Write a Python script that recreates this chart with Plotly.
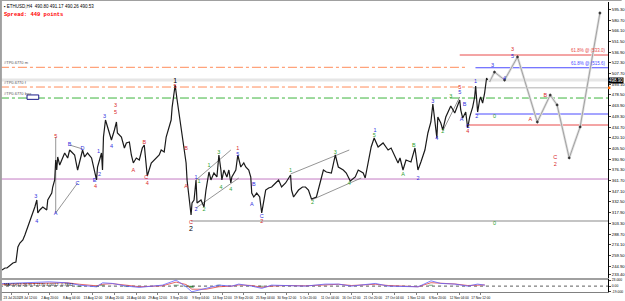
import plotly.graph_objects as go

# ---------------- data ----------------
# time in days since 23 Jul 2020 00:00 (H4 chart), price in USD
price_days = [0, 0.74, 1.23, 1.97, 2.71, 3.45, 3.69, 3.94, 4.43, 5.17, 5.67, 6.40, 6.90, 7.64, 8.13, 8.62, 8.87,
              9.36, 10.10, 11.08, 11.33, 12.32, 12.56, 13.05, 13.30, 13.55, 13.79, 14.29, 14.78, 15.52, 16.26, 16.75,
              17.24, 17.98, 18.72, 19.21, 19.95, 20.44, 21.18, 22.17, 22.91, 23.40, 23.65, 24.14, 24.63, 24.88, 25.12,
              25.62, 26.11, 26.60, 27.09, 27.83, 28.33, 28.57, 29.56, 30.30, 30.79, 31.53, 32.02, 32.51, 33.25, 33.99,
              34.73, 35.22, 35.71, 35.96, 36.95, 37.68, 38.42, 38.92, 39.41, 40.15, 40.64, 41.38, 41.87, 42.12, 42.61,
              42.86, 43.35, 43.84, 44.33, 44.58, 45.07, 45.57, 45.81, 46.31, 46.80, 47.04, 47.54, 48.03, 48.28, 49.26,
              50.00, 50.49, 51.23, 51.72, 52.46, 53.20, 53.69, 54.19, 54.43, 54.93, 55.67, 56.16, 56.65, 56.90, 57.88,
              58.37, 59.11, 59.85, 60.34, 61.08, 61.58, 61.82, 62.32, 63.05, 63.79, 64.29, 64.78, 65.27, 66.01, 66.75,
              67.73, 68.47, 69.21, 70.20, 71.43, 71.67, 72.17, 73.40, 74.38, 75.12, 75.86, 76.60, 77.83, 78.82, 79.56,
              80.30, 81.53, 82.51, 83.25, 84.48, 85.22, 86.21, 87.44, 88.18, 89.41, 89.90, 90.64, 91.38, 92.12, 93.10,
              94.33, 95.57, 96.31, 97.29, 98.03, 98.52, 99.26, 100.00, 101.23, 102.22, 102.96, 103.69, 104.68, 105.42,
              106.16, 106.65, 107.14, 107.64, 107.88, 108.62, 109.11, 109.85, 111.08, 112.07, 113.30, 113.55, 114.04,
              114.78, 115.27, 115.76, 116.50, 116.99, 117.24, 117.49, 117.73, 118.23, 118.47, 118.97, 119.46, 119.95,
              120.20]
price_close = [239.7, 242.4, 242.4, 246.5, 249.3, 250.6, 262.9, 271.1, 276.5, 280.6, 287.5, 298.4, 305.2, 317.5,
               325.7, 335.2, 317.5, 321.6, 325.7, 321.6, 335.2, 344.7, 352.9, 362.5, 389.8, 376.1, 393.9, 382.9, 389.8,
               399.3, 392.5, 403.4, 400.7, 396.6, 376.1, 387.0, 403.4, 393.9, 399.3, 392.5, 372.0, 362.5, 380.2, 389.8,
               399.3, 376.1, 421.1, 444.3, 434.8, 426.6, 417.0, 430.7, 441.6, 426.6, 421.1, 406.1, 413.0, 414.3, 396.6,
               385.7, 392.5, 389.8, 406.1, 410.2, 380.2, 367.9, 385.7, 389.8, 393.9, 396.6, 403.4, 400.7, 421.1, 434.8,
               444.3, 462.0, 481.1, 492.1, 471.6, 453.9, 434.8, 421.1, 406.1, 385.7, 362.5, 339.3, 314.7, 331.1, 335.2,
               362.5, 331.1, 335.2, 325.7, 348.8, 373.4, 362.5, 372.0, 366.6, 396.6, 376.1, 362.5, 376.1, 366.6, 376.1,
               358.4, 366.6, 376.1, 396.6, 380.2, 385.7, 380.2, 376.1, 366.6, 344.7, 339.3, 344.7, 339.3, 317.5, 335.2,
               348.8, 351.6, 352.9, 358.4, 362.5, 352.9, 358.4, 369.3, 348.8, 339.3, 348.8, 352.9, 352.9, 348.8, 336.6,
               339.3, 358.4, 376.1, 373.4, 372.0, 396.6, 380.2, 376.1, 372.0, 361.1, 366.6, 376.1, 372.0, 365.2, 385.7,
               407.5, 419.8, 407.5, 413.0, 403.4, 406.1, 393.9, 385.7, 392.5, 376.1, 389.8, 387.0, 406.1, 376.1, 387.0,
               403.4, 426.6, 441.6, 466.1, 440.2, 419.8, 448.4, 440.2, 430.7, 448.4, 463.4, 453.9, 471.6, 458.0, 447.0,
               455.2, 433.4, 448.4, 462.0, 475.7, 490.7, 467.5, 455.2, 471.6, 475.7, 467.5, 481.1, 501.6, 498.9]

# projected path (grey arrows)
proj_days = [120.7, 121.9, 124.4, 127.6, 132.5, 135.7, 137.4, 140.4, 143.1, 148.0]
proj_price = [496.2, 509.8, 498.9, 530.3, 441.6, 478.4, 464.8, 392.5, 434.8, 590.3]

# trend / channel lines: (day0, price0, day1, price1)
trend_lines = [
    (13.30, 317.5, 13.30, 421.1),
    (13.30, 317.5, 18.72, 358.4),
    (16.75, 410.2, 19.95, 404.8),
    (48.03, 362.5, 56.65, 403.4),
    (48.03, 324.3, 58.62, 365.2),
    (71.43, 370.7, 85.96, 403.4),
    (76.60, 335.2, 88.92, 365.2),
    (109.1, 429.3, 113.3, 475.7),
]

# horizontal levels: price, start day, end day
level_price = [533.0, 516.2, 515.6, 498.9, 489.3, 488.2, 474.3, 452.5, 437.5, 363.8, 306.6]
level_start = [113.3, -0.5, 117.2, -0.5, -0.5, 116.5, -0.5, 117.2, 115.3, -0.5, 46.8]
level_end = [150.0, 115.3, 150.0, 150.0, 116.5, 150.0, 150.0, 150.0, 150.0, 150.0, 150.0]

# wave labels
lab_text = ["5", "A", "B", "C", "D", "3", "4", "E", "4", "1", "2", "3", "4", "3", "5", "A", "B", "C", "4",
            "1", "5", "B", "A", "C", "2", "1", "2", "1", "2", "1", "3", "4", "4", "1", "5", "B", "A", "C", "2",
            "1", "2", "3", "4", "1", "5", "A", "B", "2", "3", "4", "2", "3", "5", "5", "B", "A", "C", "4", "1", "2",
            "0", "0", "3", "4", "3", "5", "A", "B", "C", "2"]
lab_day = [13.30, 13.30, 16.75, 18.72, 19.95, 8.37, 8.62, 22.91, 23.15, 23.89, 24.14, 25.37, 27.09, 28.08, 28.08,
           32.51, 35.22, 35.71, 35.96, 42.86, 42.86, 45.57, 45.57, 46.80, 46.80, 48.03, 48.03, 48.77, 50.00, 51.23,
           53.69, 54.19, 56.65, 58.37, 58.37, 62.32, 61.82, 64.29, 64.29, 71.43, 76.85, 82.51, 85.96, 92.36, 92.12,
           99.26, 101.97, 102.96, 106.65, 107.64, 109.11, 111.08, 113.30, 113.30, 114.53, 113.79, 115.27, 115.27,
           117.24, 117.49, 121.92, 121.92, 121.43, 124.38, 126.35, 126.35, 130.79, 134.48, 136.95, 136.95]
lab_price = [421.1, 316.1, 410.2, 357.0, 404.8, 339.3, 305.2, 361.1, 352.9, 400.7, 369.3, 448.4, 407.5, 463.4,
             453.9, 374.8, 413.0, 365.2, 357.0, 497.5, 489.3, 404.8, 352.9, 303.8, 295.6, 365.2, 321.6, 359.8,
             321.6, 381.6, 399.3, 351.6, 348.8, 404.8, 396.6, 355.7, 328.4, 312.0, 305.2, 374.8, 331.1, 399.3,
             357.0, 429.3, 422.5, 369.3, 408.9, 363.8, 468.9, 418.4, 428.0, 475.7, 488.0, 481.1, 464.8, 444.3,
             434.8, 428.0, 496.2, 448.4, 448.4, 302.5, 518.0, 500.2, 539.8, 530.3, 444.3, 477.1, 392.5, 382.9]
lab_kind = ["r", "b", "b", "b", "b", "b", "b", "b", "r", "b", "b", "b", "b", "r", "r", "r", "r", "r", "r",
            "k", "r", "r", "r", "r", "k", "b", "b", "g", "g", "g", "g", "g", "g", "r", "b", "b", "b", "b", "r",
            "g", "g", "g", "g", "b", "g", "g", "g", "b", "b", "b", "g", "g", "r", "b", "b", "b", "b", "r", "b", "b",
            "g", "g", "b", "b", "r", "b", "r", "r", "r", "r"]

# MACD-like indicator
ind_days = [0, 11.8, 16.0, 19.2, 23.4, 24.9, 27.3, 30.8, 34.0, 39.7, 43.1, 45.6, 47.0, 50.5, 53.7, 56.9, 58.6,
            61.8, 64.3, 66.7, 70.2, 75.1, 80.0, 83.3, 86.5, 92.4, 95.6, 99.8, 103.0, 106.2, 108.6, 112.1, 115.3,
            117.7, 119.5]
ind_main = [8.1, 13.9, 10.7, 3.2, -2.3, 10.7, 8.7, 0, -4.2, 3.2, 19.4, -2.3, -18.4, -7.4, 3.2, 0, 6.5, 0, -7.4,
            3.2, 2.3, 0, 6.5, 6.5, 0, 8.7, 0, -2.3, -2.3, 17.1, 8.7, 6.5, 0, 6.5, 3.2]
ind_signal = [6, 11, 11, 6, 1, 6, 8, 3, -2, 1, 13, 5, -10, -10, -2, 0, 4, 2, -4, 0, 2, 1, 4, 6, 2, 6, 2, -1, -2,
              11, 10, 7, 2, 4, 4]
ind_hist = [1, 2, 0, -2, -2, 3, 1, -2, -1, 1, 4, -4, -5, 2, 3, 0, 1, -1, -2, 2, 0, -1, 1, 0, -1, 2, -1, -1, 0, 4,
            -1, 0, -1, 1, -1]

# axis ticks
y_tick_vals = [595.30, 580.70, 566.10, 551.50, 536.90, 522.30, 507.70, 493.10, 478.50, 463.90, 449.30, 434.70,
               420.10, 405.50, 390.90, 376.30, 361.70, 347.10, 332.50, 317.90, 303.30, 288.70, 274.10, 259.50,
               244.90, 233.40]
x_tick_vals = [2.4, 6.5, 11.8, 17.2, 22.5, 27.8, 33.2, 38.5, 43.8, 49.2, 54.5, 59.8, 65.2, 70.5, 75.8, 81.2,
               86.5, 91.8, 97.2, 102.5, 107.8, 113.2, 118.5]
x_tick_text = ["23 Jul 2020", "28 Jul 12:00", "2 Aug 20:00", "8 Aug 04:00", "13 Aug 12:00", "18 Aug 20:00",
               "24 Aug 04:00", "29 Aug 12:00", "3 Sep 20:00", "9 Sep 04:00", "14 Sep 12:00", "19 Sep 20:00",
               "25 Sep 04:00", "30 Sep 12:00", "5 Oct 20:00", "11 Oct 04:00", "16 Oct 12:00", "21 Oct 20:00",
               "27 Oct 04:00", "1 Nov 12:00", "6 Nov 20:00", "12 Nov 04:00", "17 Nov 12:00"]
ind_tick_vals = [19, 0, -17]
ind_tick_text = ["23.000", "0.00", "-19.000"]

current_price = 498.9
header_text = "ETHUSD,H4  490.80 491.17 490.26 490.53"
spread_text = "Spread: 449 points"

# ---------------- figure ----------------
X0, X1 = -0.49, 150.0
fig = go.Figure()

level_styles = [
    dict(color="#e84a4a", width=1, dash="solid"),
    dict(color="#ff8c5a", width=1, dash="dashdot"),
    dict(color="#4a4aff", width=1, dash="solid"),
    dict(color="#e6e6e6", width=3, dash="solid"),
    dict(color="#ff8c5a", width=1, dash="dashdot"),
    dict(color="#b0b0b0", width=1, dash="solid"),
    dict(color="#3cb43c", width=1, dash="dashdot"),
    dict(color="#4a4aff", width=1, dash="solid"),
    dict(color="#e84a4a", width=1, dash="solid"),
    dict(color="#c47ac4", width=1, dash="solid"),
    dict(color="#c4c4c4", width=2, dash="solid"),
]
for p, s, e, st in zip(level_price, level_start, level_end, level_styles):
    fig.add_trace(go.Scatter(x=[s, e], y=[p, p], mode="lines", line=st, hoverinfo="skip",
                             xaxis="x", yaxis="y"))

for d0, p0, d1, p1 in trend_lines:
    fig.add_trace(go.Scatter(x=[d0, d1], y=[p0, p1], mode="lines",
                             line=dict(color="#7a7a7a", width=0.8), xaxis="x", yaxis="y"))

# projection
fig.add_trace(go.Scatter(x=proj_days, y=proj_price, mode="lines",
                         line=dict(color="#e0e0e0", width=2.5), xaxis="x", yaxis="y"))
fig.add_trace(go.Scatter(x=proj_days, y=proj_price, mode="lines",
                         line=dict(color="#9a9a9a", width=0.9), xaxis="x", yaxis="y"))
fig.add_trace(go.Scatter(x=proj_days[1:], y=proj_price[1:], mode="markers",
                         marker=dict(color="#333", size=2.5, symbol="diamond"), xaxis="x", yaxis="y"))

# price
fig.add_trace(go.Scatter(x=price_days, y=price_close, mode="lines",
                         line=dict(color="#1a1a1a", width=1.2), xaxis="x", yaxis="y"))

# labels
cmap = {"r": "#d8282a", "b": "#3030e0", "g": "#2f9f2f", "k": "#000000"}
for kind in ["r", "b", "g", "k"]:
    idx = [i for i, k in enumerate(lab_kind) if k == kind]
    fig.add_trace(go.Scatter(
        x=[lab_day[i] for i in idx], y=[lab_price[i] for i in idx],
        text=[lab_text[i] for i in idx], mode="text",
        textfont=dict(color=cmap[kind], size=7 if kind == "k" else 5.5, family="Arial"),
        xaxis="x", yaxis="y"))

# indicator
fig.add_trace(go.Scatter(x=[X0, X1], y=[0, 0], mode="lines",
                         line=dict(color="#333", width=0.8, dash="dot"), xaxis="x2", yaxis="y2"))
fig.add_trace(go.Bar(x=ind_days, y=ind_hist, marker_color="#2a8a2a", width=1.2, xaxis="x2", yaxis="y2"))
fig.add_trace(go.Scatter(x=ind_days, y=ind_signal, mode="lines",
                         line=dict(color="#e04040", width=0.8), xaxis="x2", yaxis="y2"))
fig.add_trace(go.Scatter(x=ind_days, y=ind_main, mode="lines",
                         line=dict(color="#6060ff", width=0.8), xaxis="x2", yaxis="y2"))

small = dict(size=4.2, family="Arial", color="#000")
fig.update_layout(
    width=625, height=301, margin=dict(l=0, r=14, t=2, b=9),
    paper_bgcolor="white", plot_bgcolor="white", showlegend=False,
    xaxis=dict(domain=[0, 1], range=[X0, X1], anchor="y", showticklabels=False, showgrid=False,
               zeroline=False, showline=True, linecolor="#a0a0a0", linewidth=2, ticks=""),
    xaxis2=dict(domain=[0, 1], range=[X0, X1], anchor="y2", showgrid=False, zeroline=False,
                showline=True, linecolor="#808080", linewidth=1, ticks="outside", ticklen=2,
                tickcolor="#808080", tickvals=x_tick_vals, ticktext=x_tick_text, tickangle=0,
                tickfont=dict(size=3.2, family="Liberation Sans Narrow, Arial", color="#000")),
    yaxis=dict(domain=[0.0483, 1], range=[228.8, 605.3], side="right", anchor="x", showgrid=False,
               zeroline=False, showline=True, linecolor="#000", linewidth=1, ticks="outside", ticklen=2,
               tickvals=y_tick_vals, ticktext=["{:.2f}".format(v) for v in y_tick_vals], tickfont=small),
    yaxis2=dict(domain=[0, 0.0448], range=[-19, 23], side="right", anchor="x2", showgrid=False,
                zeroline=False, showline=True, linecolor="#000", linewidth=1, ticks="outside", ticklen=2,
                tickvals=ind_tick_vals, ticktext=ind_tick_text,
                tickfont=dict(size=3.4, family="Arial", color="#000")),
    bargap=0,
)

# frame borders
fig.add_shape(type="line", xref="paper", yref="paper", x0=0, x1=1.0224, y0=1.0069, y1=1.0069,
              line=dict(color="#a0a0a0", width=2))
fig.add_shape(type="line", xref="paper", yref="paper", x0=0.0015, x1=0.0015, y0=-0.03, y1=1.0069,
              line=dict(color="#a0a0a0", width=2))

fib_red = "61.8% @ ({:.1f})".format(level_price[0])
fib_blue = "61.8% @ ({:.1f})".format(level_price[2])
annotations = [
    dict(x=0.004, y=1.0, xref="paper", yref="paper", xanchor="left", yanchor="top",
         text="▪ " + header_text, showarrow=False, font=dict(size=4.5, color="#000", family="Arial")),
    dict(x=0.004, y=0.975, xref="paper", yref="paper", xanchor="left", yanchor="top",
         text="<b>" + spread_text + "</b>", showarrow=False,
         font=dict(size=5.5, color="#ff0000", family="Courier New, monospace")),
    dict(x=1.0, y=current_price, xref="paper", yref="y", xanchor="left", yanchor="middle",
         text="{:.2f}".format(current_price), showarrow=False, bgcolor="#000",
         font=dict(size=4.5, color="#fff", family="Arial"), borderpad=0),
    dict(x=X1, y=level_price[0], xref="x", yref="y", xanchor="right", yanchor="bottom",
         text=fib_red, showarrow=False, font=dict(size=4.5, color="#e84a4a", family="Arial")),
    dict(x=X1, y=level_price[2], xref="x", yref="y", xanchor="right", yanchor="bottom",
         text=fib_blue, showarrow=False, font=dict(size=4.5, color="#4a4aff", family="Arial")),
    dict(x=0.0, y=level_price[1], xref="x", yref="y", xanchor="left", yanchor="bottom",
         text="#TP0.6770 m", showarrow=False, font=dict(size=4, color="#555", family="Arial")),
    dict(x=0.0, y=level_price[4], xref="x", yref="y", xanchor="left", yanchor="bottom",
         text="#TP0.6770 f", showarrow=False, font=dict(size=4, color="#555", family="Arial")),
    dict(x=0.0, y=level_price[6], xref="x", yref="y", xanchor="left", yanchor="bottom",
         text="#TP0.6770 box", showarrow=False, font=dict(size=4, color="#555", family="Arial")),
    dict(x=0.004, y=0.04, xref="paper", yref="paper", xanchor="left", yanchor="top",
         text="MACD(12,26,9) 3.2170 4.0012 -0.7842", showarrow=False,
         font=dict(size=4, color="#000", family="Arial")),
]
fig.update_layout(annotations=annotations)

# small box object on the green level
fig.add_shape(type="rect", xref="x", yref="y", x0=6.2, x1=9.1, y0=472.5, y1=478.5,
              line=dict(color="#1a1a8a", width=1), fillcolor="white")
# orange tag at the right edge
fig.add_shape(type="rect", xref="paper", yref="y", x0=1.0, x1=1.004, y0=486.5, y1=490.0,
              line=dict(width=0), fillcolor="#ff6a00")

fig.write_html("out.html")
